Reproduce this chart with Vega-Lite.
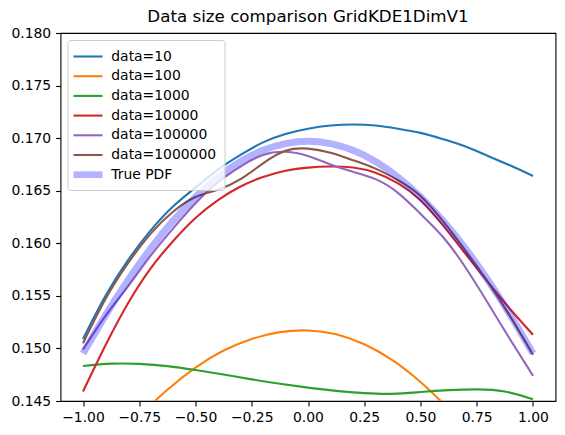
{
  "$schema": "https://vega.github.io/schema/vega-lite/v6.json",
  "autosize": "none",
  "width": 495,
  "height": 368,
  "padding": {"left": 60.5, "top": 33, "right": 9.5, "bottom": 34},
  "background": "white",
  "title": {"text": "Data size comparison GridKDE1DimV1", "font": "DejaVu Sans", "fontSize": 16.7, "fontWeight": "normal", "color": "black", "anchor": "middle", "frame": "group", "offset": 0},
  "config": {
    "view": {"stroke": "black", "strokeWidth": 1.1},
    "axis": {"labelFont": "DejaVu Sans", "labelFontSize": 13.9, "labelColor": "black", "tickColor": "black", "tickSize": 4.9, "tickWidth": 1.1, "labelPadding": 4.9, "grid": false, "domain": false, "title": null}
  },
  "data": {"values": [
    {"s":"data=10","x":-1.0,"y":0.1509},{"s":"data=10","x":-0.9,"y":0.1550},{"s":"data=10","x":-0.8,"y":0.1584},{"s":"data=10","x":-0.7,"y":0.1612},{"s":"data=10","x":-0.6,"y":0.1635},{"s":"data=10","x":-0.5,"y":0.1653},{"s":"data=10","x":-0.4,"y":0.1670},{"s":"data=10","x":-0.3,"y":0.1684},{"s":"data=10","x":-0.2,"y":0.1696},{"s":"data=10","x":-0.1,"y":0.1704},{"s":"data=10","x":0.0,"y":0.1709},{"s":"data=10","x":0.1,"y":0.1712},{"s":"data=10","x":0.2,"y":0.1713},{"s":"data=10","x":0.3,"y":0.1712},{"s":"data=10","x":0.4,"y":0.1709},{"s":"data=10","x":0.5,"y":0.1705},{"s":"data=10","x":0.6,"y":0.1699},{"s":"data=10","x":0.7,"y":0.1692},{"s":"data=10","x":0.8,"y":0.1683},{"s":"data=10","x":0.9,"y":0.1674},{"s":"data=10","x":1.0,"y":0.1664},
    {"s":"data=100","x":-1.0,"y":0.13695},{"s":"data=100","x":-0.875,"y":0.14048},{"s":"data=100","x":-0.75,"y":0.14352},{"s":"data=100","x":-0.625,"y":0.14607},{"s":"data=100","x":-0.5,"y":0.14818},{"s":"data=100","x":-0.375,"y":0.14980},{"s":"data=100","x":-0.25,"y":0.15090},{"s":"data=100","x":-0.125,"y":0.15155},{"s":"data=100","x":0.0,"y":0.15171},{"s":"data=100","x":0.125,"y":0.15134},{"s":"data=100","x":0.25,"y":0.15039},{"s":"data=100","x":0.375,"y":0.14888},{"s":"data=100","x":0.5,"y":0.14680},{"s":"data=100","x":0.625,"y":0.14422},{"s":"data=100","x":0.75,"y":0.14113},{"s":"data=100","x":0.875,"y":0.13755},{"s":"data=100","x":1.0,"y":0.13346},
    {"s":"data=1000","x":-1.0,"y":0.14833},{"s":"data=1000","x":-0.875,"y":0.14855},{"s":"data=1000","x":-0.75,"y":0.14853},{"s":"data=1000","x":-0.625,"y":0.14832},{"s":"data=1000","x":-0.5,"y":0.14795},{"s":"data=1000","x":-0.375,"y":0.14752},{"s":"data=1000","x":-0.25,"y":0.14706},{"s":"data=1000","x":-0.125,"y":0.14664},{"s":"data=1000","x":0.0,"y":0.14627},{"s":"data=1000","x":0.125,"y":0.14596},{"s":"data=1000","x":0.25,"y":0.14575},{"s":"data=1000","x":0.375,"y":0.14568},{"s":"data=1000","x":0.5,"y":0.14585},{"s":"data=1000","x":0.625,"y":0.14603},{"s":"data=1000","x":0.75,"y":0.14611},{"s":"data=1000","x":0.875,"y":0.14590},{"s":"data=1000","x":1.0,"y":0.14516},
    {"s":"data=10000","x":-1.0,"y":0.1459},{"s":"data=10000","x":-0.9,"y":0.1503},{"s":"data=10000","x":-0.8,"y":0.1543},{"s":"data=10000","x":-0.7,"y":0.1576},{"s":"data=10000","x":-0.6,"y":0.1602},{"s":"data=10000","x":-0.5,"y":0.1624},{"s":"data=10000","x":-0.4,"y":0.1641},{"s":"data=10000","x":-0.3,"y":0.1654},{"s":"data=10000","x":-0.2,"y":0.1663},{"s":"data=10000","x":-0.1,"y":0.1669},{"s":"data=10000","x":0.0,"y":0.1672},{"s":"data=10000","x":0.1,"y":0.1673},{"s":"data=10000","x":0.2,"y":0.1672},{"s":"data=10000","x":0.3,"y":0.1667},{"s":"data=10000","x":0.4,"y":0.1657},{"s":"data=10000","x":0.5,"y":0.1641},{"s":"data=10000","x":0.6,"y":0.1617},{"s":"data=10000","x":0.7,"y":0.1590},{"s":"data=10000","x":0.8,"y":0.1563},{"s":"data=10000","x":0.9,"y":0.1537},{"s":"data=10000","x":1.0,"y":0.1513},
    {"s":"data=100000","x":-1.0,"y":0.1499},{"s":"data=100000","x":-0.9,"y":0.1531},{"s":"data=100000","x":-0.8,"y":0.1559},{"s":"data=100000","x":-0.7,"y":0.1588},{"s":"data=100000","x":-0.6,"y":0.1614},{"s":"data=100000","x":-0.5,"y":0.1638},{"s":"data=100000","x":-0.4,"y":0.1658},{"s":"data=100000","x":-0.3,"y":0.1673},{"s":"data=100000","x":-0.2,"y":0.1684},{"s":"data=100000","x":-0.1,"y":0.1687},{"s":"data=100000","x":0.0,"y":0.1683},{"s":"data=100000","x":0.1,"y":0.1675},{"s":"data=100000","x":0.2,"y":0.1668},{"s":"data=100000","x":0.3,"y":0.1661},{"s":"data=100000","x":0.4,"y":0.1648},{"s":"data=100000","x":0.5,"y":0.1628},{"s":"data=100000","x":0.6,"y":0.1606},{"s":"data=100000","x":0.7,"y":0.1577},{"s":"data=100000","x":0.8,"y":0.1543},{"s":"data=100000","x":0.9,"y":0.1508},{"s":"data=100000","x":1.0,"y":0.1474},
    {"s":"data=1000000","x":-1.0,"y":0.1505},{"s":"data=1000000","x":-0.9,"y":0.1547},{"s":"data=1000000","x":-0.8,"y":0.1581},{"s":"data=1000000","x":-0.7,"y":0.1609},{"s":"data=1000000","x":-0.6,"y":0.1630},{"s":"data=1000000","x":-0.5,"y":0.1644},{"s":"data=1000000","x":-0.4,"y":0.1651},{"s":"data=1000000","x":-0.3,"y":0.1661},{"s":"data=1000000","x":-0.2,"y":0.1676},{"s":"data=1000000","x":-0.1,"y":0.1688},{"s":"data=1000000","x":0.0,"y":0.1690},{"s":"data=1000000","x":0.1,"y":0.1686},{"s":"data=1000000","x":0.2,"y":0.1679},{"s":"data=1000000","x":0.3,"y":0.1671},{"s":"data=1000000","x":0.4,"y":0.1660},{"s":"data=1000000","x":0.5,"y":0.1645},{"s":"data=1000000","x":0.6,"y":0.1621},{"s":"data=1000000","x":0.7,"y":0.1593},{"s":"data=1000000","x":0.8,"y":0.1563},{"s":"data=1000000","x":0.9,"y":0.1530},{"s":"data=1000000","x":1.0,"y":0.1494},
    {"s":"True PDF","x":-1.0,"y":0.14951},{"s":"True PDF","x":-0.9,"y":0.15315},{"s":"True PDF","x":-0.8,"y":0.15648},{"s":"True PDF","x":-0.7,"y":0.15949},{"s":"True PDF","x":-0.6,"y":0.16213},{"s":"True PDF","x":-0.5,"y":0.16441},{"s":"True PDF","x":-0.4,"y":0.16629},{"s":"True PDF","x":-0.3,"y":0.16778},{"s":"True PDF","x":-0.2,"y":0.16884},{"s":"True PDF","x":-0.1,"y":0.16948},{"s":"True PDF","x":0.0,"y":0.1697},{"s":"True PDF","x":0.1,"y":0.16948},{"s":"True PDF","x":0.2,"y":0.16884},{"s":"True PDF","x":0.3,"y":0.16778},{"s":"True PDF","x":0.4,"y":0.16629},{"s":"True PDF","x":0.5,"y":0.16441},{"s":"True PDF","x":0.6,"y":0.16213},{"s":"True PDF","x":0.7,"y":0.15949},{"s":"True PDF","x":0.8,"y":0.15648},{"s":"True PDF","x":0.9,"y":0.15315},{"s":"True PDF","x":1.0,"y":0.14951}
  ]},
  "encoding": {
    "x": {"field": "x", "type": "quantitative", "scale": {"domain": [-1.1, 1.1], "nice": false, "zero": false}, "axis": {"values": [-1, -0.75, -0.5, -0.25, 0, 0.25, 0.5, 0.75, 1], "format": ".2f"}},
    "y": {"field": "y", "type": "quantitative", "scale": {"domain": [0.145, 0.18], "nice": false, "zero": false}, "axis": {"values": [0.145, 0.15, 0.155, 0.16, 0.165, 0.17, 0.175, 0.18], "format": ".3f"}},
    "color": {"field": "s", "type": "nominal",
      "scale": {"domain": ["data=10", "data=100", "data=1000", "data=10000", "data=100000", "data=1000000", "True PDF"], "range": ["#1f77b4", "#ff7f0e", "#2ca02c", "#d62728", "#9467bd", "#8c564b", "#0000ff"]},
      "legend": {"title": null, "orient": "none", "legendX": 7, "legendY": 7, "fillColor": "rgba(255,255,255,0.8)", "strokeColor": "#cccccc", "cornerRadius": 3, "padding": 8,
        "symbolType": "M-2,0H2", "symbolSize": 210, "symbolStrokeWidth": 2.1, "symbolOffset": 4, "labelOffset": 14.8, "rowPadding": 3.7,
        "labelFont": "DejaVu Sans", "labelFontSize": 13.9, "labelColor": "black", "labelLimit": 300,
        "encode": {"symbols": {"update": {
          "shape": {"signal": "datum.value === 'True PDF' ? 'M-2,-0.46H2V0.46H-2Z' : 'M-2,0H2'"},
          "fill": {"signal": "datum.value === 'True PDF' ? '#b3b3ff' : 'transparent'"},
          "strokeOpacity": {"signal": "datum.value === 'True PDF' ? 0 : 1"}}}}}}
  },
  "layer": [
    {"transform": [{"filter": "datum.s !== 'True PDF'"}], "mark": {"type": "line", "clip": true, "strokeWidth": 2.1, "interpolate": "natural"}},
    {"transform": [{"filter": "datum.s === 'True PDF'"}], "mark": {"type": "line", "clip": true, "strokeWidth": 7, "opacity": 0.3, "interpolate": "natural"}}
  ]
}
